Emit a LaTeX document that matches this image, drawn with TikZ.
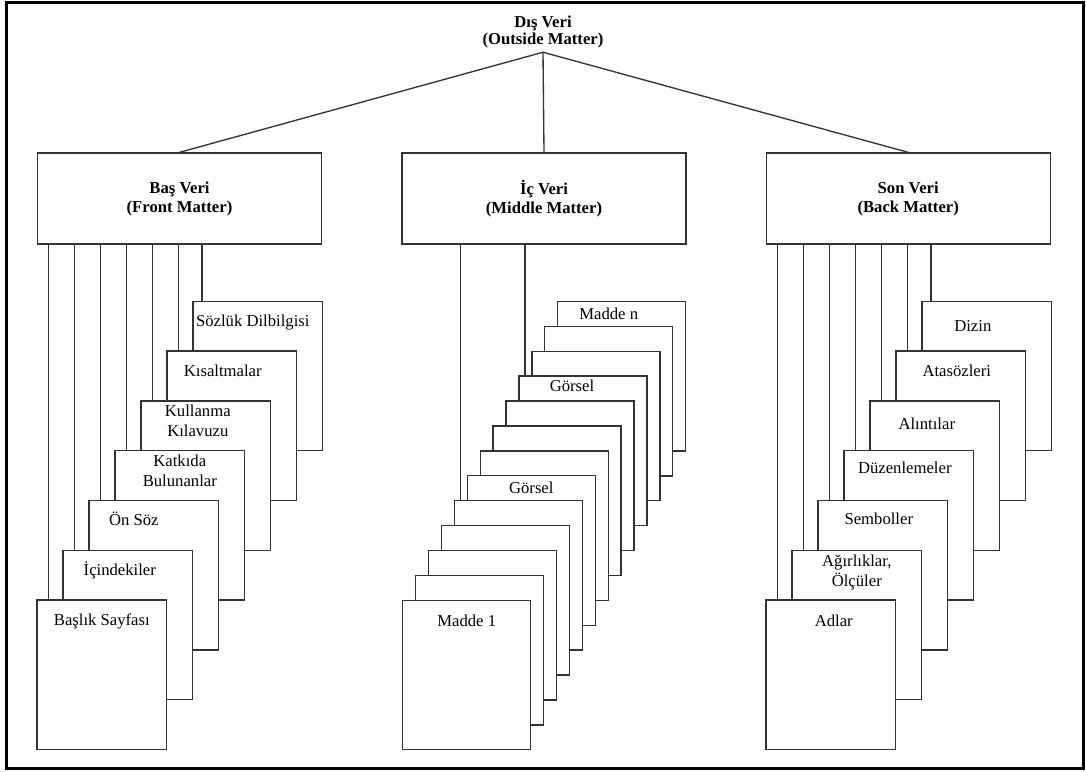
\documentclass[tikz,border=0pt]{standalone}
\usepackage{fontspec}
\setmainfont{Liberation Serif}
\usetikzlibrary{positioning}

\begin{document}
\begin{tikzpicture}[
  x=0.6pt, y=-0.6pt,
  line width=0.8pt,
  title/.style={align=center, inner sep=2pt, font=\bfseries\fontsize{10}{10.4}\selectfont},
  head/.style={rectangle, draw=black!80, align=center, minimum width=170.4pt, minimum height=54.6pt, font=\bfseries\fontsize{10}{11.4}\selectfont},
  page/.style={rectangle, draw=black!80, fill=white, inner sep=0pt, minimum width=77.7pt, minimum height=89.7pt},
  mpage/.style={page, minimum width=76.8pt},
  lbl/.style={inner sep=0pt, align=center, font=\fontsize{10}{12}\selectfont, execute at begin node=\strut},
  line/.style={draw=black!80},
  frame/.style={draw=black, line width=1.8pt}
]

\useasboundingbox (0,0) rectangle (1086,771);
\draw[frame] (6.5,2.5) rectangle (1083.5,768.5);

% top of the tree
\node[title] (outer) at (543,32) {Dış Veri\\(Outside Matter)};
\node[head] (front) at (179.5,198.5) {Baş Veri\\(Front Matter)};
\node[head] (middle) at (544,198.5) {İç Veri\\(Middle Matter)};
\node[head] (back) at (908.2,198.5) {Son Veri\\(Back Matter)};

\path[line] (outer.south) -- (front.north);
\path[line] (outer.south) -- (middle.north);
\path[line] (outer.south) -- (back.north);

% front matter pages, back to front
\node[page] (f6) at (257.8,376) {};
\node[lbl, below=6.8pt of f6.north, xshift=-3pt] (f6t) {Sözlük Dilbilgisi};
\node[page] (f5) at (231.8,425.8) {};
\node[lbl, below=6.8pt of f5.north, xshift=-5.4pt] (f5t) {Kısaltmalar};
\node[page] (f4) at (205.8,475.6) {};
\node[lbl, below=2.7pt of f4.north, xshift=-4.8pt] (f4t) {Kullanma\\Kılavuzu};
\node[page] (f3) at (179.8,525.4) {};
\node[lbl, below=2.7pt of f3.north] (f3t) {Katkıda\\Bulunanlar};
\node[page] (f2) at (153.8,575.2) {};
\node[lbl, below=6.8pt of f2.north, xshift=-12pt] (f2t) {Ön Söz};
\node[page] (f1) at (127.8,625) {};
\node[lbl, below=6.8pt of f1.north, xshift=-4.8pt] (f1t) {İçindekiler};
\node[page] (f0) at (101.8,674.8) {};
\node[lbl, below=6.8pt of f0.north] (f0t) {Başlık Sayfası};

\path[line] ([xshift=7.4pt]f0.north west) -- ([xshift=7.4pt]f0.north west |- front.south);
\path[line] ([xshift=7.4pt]f1.north west) -- ([xshift=7.4pt]f1.north west |- front.south);
\path[line] ([xshift=7.4pt]f2.north west) -- ([xshift=7.4pt]f2.north west |- front.south);
\path[line] ([xshift=7.4pt]f3.north west) -- ([xshift=7.4pt]f3.north west |- front.south);
\path[line] ([xshift=7.4pt]f4.north west) -- ([xshift=7.4pt]f4.north west |- front.south);
\path[line] ([xshift=7.4pt]f5.north west) -- ([xshift=7.4pt]f5.north west |- front.south);
\path[line] ([xshift=5.8pt]f6.north west) -- ([xshift=5.8pt]f6.north west |- front.south);

% middle matter pages
\node[mpage] (m12) at (621.7,376.2) {};
\node[lbl, below=2.4pt of m12.north, xshift=-7.8pt] (m12t) {Madde n};
\node[mpage] (m11) at (608.8,401.1) {};
\node[mpage] (m10) at (595.9,426) {};
\node[mpage] (m9) at (583,450.9) {};
\node[lbl, below=0.6pt of m9.north, xshift=-6.6pt] (m9t) {Görsel};
\node[mpage] (m8) at (570.1,475.8) {};
\node[mpage] (m7) at (557.1,500.7) {};
\node[mpage] (m6) at (544.2,525.6) {};
\node[mpage] (m5) at (531.3,550.5) {};
\node[lbl, below=2.1pt of m5.north] (m5t) {Görsel};
\node[mpage] (m4) at (518.4,575.4) {};
\node[mpage] (m3) at (505.5,600.3) {};
\node[mpage] (m2) at (492.5,625.2) {};
\node[mpage] (m1) at (479.6,650.1) {};
\node[mpage] (m0) at (466.7,675) {};
\node[lbl, below=7.2pt of m0.north] (m0t) {Madde 1};

\path[line] ([xshift=4pt]m4.north west) -- ([xshift=4pt]m4.north west |- middle.south);
\path[line] ([xshift=4pt]m9.north west) -- ([xshift=4pt]m9.north west |- middle.south);

% back matter pages
\node[page] (b6) at (986.8,376) {};
\node[lbl, below=9.9pt of b6.north, xshift=-8.4pt] (b6t) {Dizin};
\node[page] (b5) at (960.8,425.8) {};
\node[lbl, below=6.9pt of b5.north, xshift=-2.4pt] (b5t) {Atasözleri};
\node[page] (b4) at (934.8,475.6) {};
\node[lbl, below=9pt of b4.north, xshift=-4.8pt] (b4t) {Alıntılar};
\node[page] (b3) at (908.8,525.4) {};
\node[lbl, below=5.1pt of b3.north, xshift=-2.4pt] (b3t) {Düzenlemeler};
\node[page] (b2) at (882.8,575.2) {};
\node[lbl, below=6pt of b2.north, xshift=-2.4pt] (b2t) {Semboller};
\node[page] (b1) at (856.8,625) {};
\node[lbl, below=3pt of b1.north] (b1t) {Ağırlıklar,\\Ölçüler};
\node[page] (b0) at (830.8,674.8) {};
\node[lbl, below=7.2pt of b0.north, xshift=1.8pt] (b0t) {Adlar};

\path[line] ([xshift=7.4pt]b0.north west) -- ([xshift=7.4pt]b0.north west |- back.south);
\path[line] ([xshift=7.4pt]b1.north west) -- ([xshift=7.4pt]b1.north west |- back.south);
\path[line] ([xshift=7.4pt]b2.north west) -- ([xshift=7.4pt]b2.north west |- back.south);
\path[line] ([xshift=7.4pt]b3.north west) -- ([xshift=7.4pt]b3.north west |- back.south);
\path[line] ([xshift=7.4pt]b4.north west) -- ([xshift=7.4pt]b4.north west |- back.south);
\path[line] ([xshift=7.4pt]b5.north west) -- ([xshift=7.4pt]b5.north west |- back.south);
\path[line] ([xshift=5.8pt]b6.north west) -- ([xshift=5.8pt]b6.north west |- back.south);

\end{tikzpicture}
\end{document}
